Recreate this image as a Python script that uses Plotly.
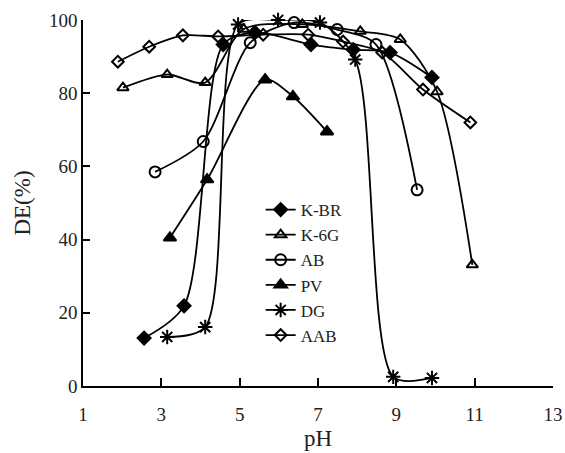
import plotly.graph_objects as go

# Decolourisation efficiency (DE, %) versus pH for six dyes
kbr_ph = [2.56, 3.58, 4.58, 5.39, 6.82, 7.90, 8.84, 9.91]
kbr_de = [13.1, 21.9, 93.3, 96.6, 93.3, 91.9, 91.1, 84.3]

k6g_ph = [2.02, 3.15, 4.12, 5.10, 6.60, 8.08, 9.10, 10.04, 10.94]
k6g_de = [81.5, 85.1, 82.9, 97.5, 98.8, 96.9, 94.7, 80.4, 33.1]

ab_ph = [2.84, 4.07, 5.27, 6.39, 7.49, 8.48, 9.53]
ab_de = [58.5, 66.8, 93.8, 99.3, 97.4, 93.3, 53.6]

pv_ph = [3.22, 4.17, 5.65, 6.36, 7.23]
pv_de = [40.5, 56.4, 83.7, 79.1, 69.5]

dg_ph = [3.15, 4.12, 4.96, 5.98, 7.05, 7.95, 8.92, 9.91]
dg_de = [13.4, 16.1, 98.8, 100.0, 99.3, 89.2, 2.5, 2.2]

aab_ph = [1.89, 2.69, 3.55, 4.45, 5.60, 6.75, 7.64, 8.64, 9.68, 10.89]
aab_de = [88.6, 92.7, 95.8, 95.5, 96.0, 96.0, 94.1, 91.1, 81.0, 72.0]

x_ticks = [1, 3, 5, 7, 9, 11, 13]
y_ticks = [0, 20, 40, 60, 80, 100]

series = [
    ("K-BR", kbr_ph, kbr_de, "diamond", 10),
    ("K-6G", k6g_ph, k6g_de, "triangle-up-open", 10),
    ("AB", ab_ph, ab_de, "circle-open", 11),
    ("PV", pv_ph, pv_de, "triangle-up", 11),
    ("DG", dg_ph, dg_de, "asterisk-open", 12),
    ("AAB", aab_ph, aab_de, "diamond-open", 9),
]

fig = go.Figure()
for name, xs, ys, sym, size in series:
    fig.add_trace(go.Scatter(
        x=xs, y=ys, name=name, mode="lines+markers",
        line=dict(color="black", width=1.8, shape="spline", smoothing=0.8),
        marker=dict(symbol=sym, size=size, color="black",
                    line=dict(color="black", width=2)),
        cliponaxis=False,
    ))

font = "Liberation Serif, Times New Roman, serif"
fig.update_layout(
    width=565, height=453,
    margin=dict(l=83, r=12, t=20, b=67),
    plot_bgcolor="white", paper_bgcolor="white",
    font=dict(family=font, size=19, color="#222"),
    showlegend=True,
    legend=dict(x=0.378, y=0.53, xanchor="left", yanchor="top",
                bgcolor="rgba(0,0,0,0)", font=dict(size=17),
                tracegroupgap=0),
    xaxis=dict(range=[1, 13], tickvals=x_ticks, ticks="inside", ticklen=8,
               tickwidth=1.5, tickcolor="black", showline=True,
               linecolor="black", linewidth=1.5, showgrid=False,
               zeroline=False, ticklabelstandoff=10, automargin=False,
               title=dict(text="pH", standoff=6)),
    yaxis=dict(range=[0, 100], tickvals=y_ticks, ticks="inside", ticklen=7,
               tickwidth=1.5, tickcolor="black", showline=True,
               linecolor="black", linewidth=1.5, showgrid=False,
               zeroline=False, automargin=False,
               title=dict(text="DE(%)", standoff=12)),
)

fig.write_html("out.html")
